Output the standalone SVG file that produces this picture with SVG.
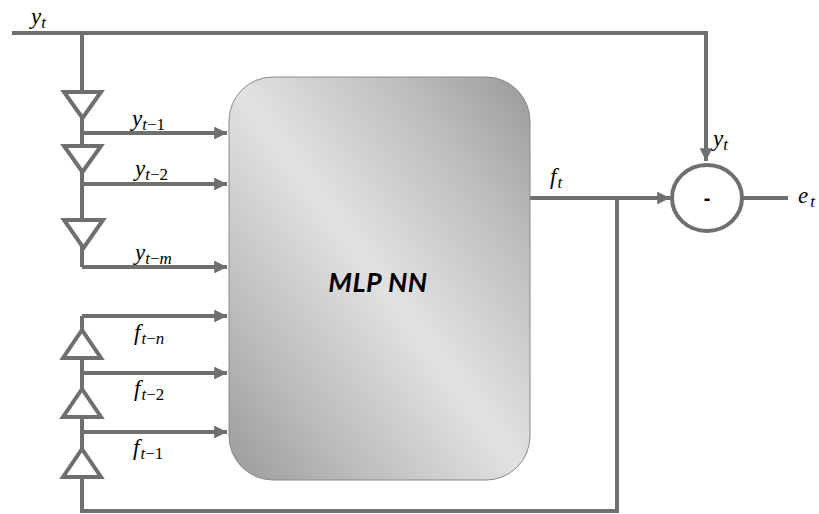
<svg xmlns="http://www.w3.org/2000/svg" width="819" height="514" viewBox="0 0 819 514">
<defs>
<linearGradient id="boxg" x1="1" y1="0" x2="0" y2="1">
<stop offset="0" stop-color="#9a9a9a"/>
<stop offset="0.22" stop-color="#bdbdbd"/>
<stop offset="0.5" stop-color="#e2e2e2"/>
<stop offset="0.78" stop-color="#bcbcbc"/>
<stop offset="1" stop-color="#9a9a9a"/>
</linearGradient>
<marker id="arr" viewBox="0 0 10 10" refX="10" refY="5" markerWidth="3.2" markerHeight="3.2" orient="auto" markerUnits="strokeWidth">
<path d="M0,0 L10,5 L0,10 Z" fill="#6f6f6f"/>
</marker>
<style>
.ln{stroke:#6f6f6f;stroke-width:4;fill:none}
.tri{stroke:#6f6f6f;stroke-width:4;fill:#fff;stroke-linejoin:miter}
.m{font-family:"Liberation Serif",serif;font-style:italic;font-size:23px;fill:#000}
.s{font-size:17px}
.u{font-style:normal}
.b{font-family:Lato,"Liberation Sans",sans-serif;font-style:italic;font-weight:bold;font-size:27px;letter-spacing:0.5px;fill:#000}
</style>
</defs>
<g id="connectors">
<polyline class="ln" points="12,33 706,33 706,161" marker-end="url(#arr)"/>
<line class="ln" x1="82" y1="33" x2="82" y2="267"/>
<line class="ln" x1="82" y1="133" x2="227" y2="133" marker-end="url(#arr)"/>
<line class="ln" x1="82" y1="184" x2="227" y2="184" marker-end="url(#arr)"/>
<line class="ln" x1="82" y1="267" x2="227" y2="267" marker-end="url(#arr)"/>
<line class="ln" x1="82" y1="316" x2="82" y2="511"/>
<line class="ln" x1="82" y1="316" x2="227" y2="316" marker-end="url(#arr)"/>
<line class="ln" x1="82" y1="373" x2="227" y2="373" marker-end="url(#arr)"/>
<line class="ln" x1="82" y1="432" x2="227" y2="432" marker-end="url(#arr)"/>
<polyline class="ln" points="80,511 617,511 617,198"/>
<line class="ln" x1="530" y1="198" x2="670" y2="198" marker-end="url(#arr)"/>
<line class="ln" x1="743" y1="198" x2="788" y2="198"/>
</g>
<g id="delays-y">
<polygon class="tri" points="64,92 101,92 82.5,118"/>
<polygon class="tri" points="64,146 101,146 82.5,172"/>
<polygon class="tri" points="64,220 103,220 83.5,248"/>
</g>
<g id="delays-f">
<polygon class="tri" points="63,358 101,358 82,330"/>
<polygon class="tri" points="63,417 101,417 82,389"/>
<polygon class="tri" points="63,477 101,477 82,449"/>
</g>
<g id="mlp">
<rect x="229" y="77" width="301" height="403" rx="44" ry="44" fill="url(#boxg)" stroke="#8a8a8a" stroke-width="1"/>
<text class="b" x="378" y="292" text-anchor="middle">MLP NN</text>
</g>
<g id="sum">
<ellipse cx="707" cy="198" rx="35" ry="33" fill="#fff" stroke="#6f6f6f" stroke-width="4"/>
<text x="707" y="205" text-anchor="middle" font-family="Liberation Sans,sans-serif" font-weight="bold" font-size="20">-</text>
</g>
<g id="labels">
<text class="m" x="31" y="24">y<tspan class="s" dy="4">t</tspan></text>
<text class="m" x="132" y="126">y<tspan class="s" dy="4">t<tspan class="u">−1</tspan></tspan></text>
<text class="m" x="135" y="176">y<tspan class="s" dy="4">t<tspan class="u">−2</tspan></tspan></text>
<text class="m" x="135" y="260">y<tspan class="s" dy="4">t<tspan class="u">−</tspan>m</tspan></text>
<text class="m" x="134" y="340">f<tspan class="s" dx="1" dy="4">t<tspan class="u">−</tspan>n</tspan></text>
<text class="m" x="134" y="396">f<tspan class="s" dx="1" dy="4">t<tspan class="u">−2</tspan></tspan></text>
<text class="m" x="133" y="455">f<tspan class="s" dx="1" dy="4">t<tspan class="u">−1</tspan></tspan></text>
<text class="m" x="550" y="184">f<tspan class="s" dx="1" dy="4">t</tspan></text>
<text class="m" x="713" y="146">y<tspan class="s" dy="4">t</tspan></text>
<text class="m" x="798" y="203">e<tspan class="s" dx="2" dy="4">t</tspan></text>
</g>
</svg>
